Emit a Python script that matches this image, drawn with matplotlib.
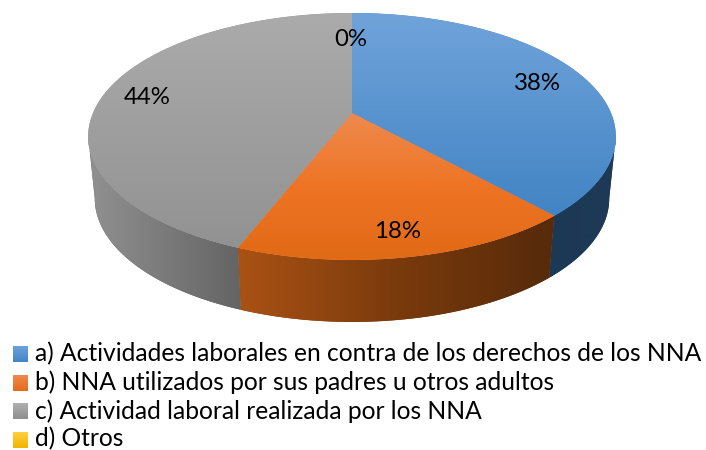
import numpy as np
import matplotlib
matplotlib.use("Agg")
import matplotlib.pyplot as plt
from matplotlib.patches import Polygon
from matplotlib.colors import LinearSegmentedColormap

categories = ["a) Actividades laborales en contra de los derechos de los NNA",
              "b) NNA utilizados por sus padres u otros adultos",
              "c) Actividad laboral realizada por los NNA",
              "d) Otros"]
values = [38.3, 17.6, 44.1, 0.0]
pct_labels = ["38%", "18%", "44%", "0%"]
label_xy = [(537.5, 83), (398, 232), (147, 98), (351, 39)]

top_colors = [["#70a3da", "#4284c4"], ["#ee8a4e", "#ee7424", "#e16a16"], ["#ababab", "#929292"], ["#ffd040", "#f0b400"]]
side_colors = [["#1b3855", "#1e3a55"], ["#aa5214", "#7a3a0c", "#562a0a"], ["#919191", "#646464"], ["#806000", "#806000"]]
swatch_colors = [["#6ba2da", "#4385c6"], ["#ee8a50", "#e56c1a"], ["#b0b0b0", "#8e8e8e"], ["#ffd040", "#f0b400"]]
swatch_y = [346, 375, 403, 432]
text_y = [354, 382.5, 411, 438.5]

FONT = "Lato"
fig = plt.figure(figsize=(7.06, 4.5), dpi=100)
ax = fig.add_axes([0, 0, 1, 1])
ax.set_xlim(0, 706)
ax.set_ylim(450, 0)
ax.axis("off")

# perspective model of the disc
CX, APEX_Y, K = 352.0, 113.0, 0.19
A, B = 259.0, 119.0
BOT_Y, BOT_SCALE = 175.0, 0.975


def rim(theta, bottom=False):
    u, v = np.sin(theta), np.cos(theta)
    w = 1 + K * v
    s = BOT_SCALE if bottom else 1.0
    y0 = BOT_Y if bottom else APEX_Y
    return CX + s * A * u / w, y0 - B * v / w


def gradient(poly, colors, extent, vertical, zorder):
    cmap = LinearSegmentedColormap.from_list("g", colors)
    ramp = np.linspace(0, 1, 256)
    img = ramp[:, None] if vertical else ramp[None, :]
    im = ax.imshow(img, cmap=cmap, extent=extent, aspect="auto", zorder=zorder,
                   interpolation="bilinear")
    patch = Polygon(poly, closed=True, transform=ax.transData, fc="none", ec="none")
    ax.add_patch(patch)
    im.set_clip_path(patch)
    # thin same-tone fill softens the clip edge
    ax.add_patch(Polygon(poly, closed=True, fc=colors[len(colors) // 2], ec="none",
                         zorder=zorder - 0.5))


edges = np.cumsum([0] + values) / sum(values) * 2 * np.pi
# the silhouette of the disc turns where the rim reaches its widest point
SIDE_MIN = np.arccos(-K)
SIDE_MAX = 2 * np.pi - SIDE_MIN

# side walls
for i in range(3):
    t0, t1 = max(edges[i], SIDE_MIN), min(edges[i + 1], SIDE_MAX)
    th = np.linspace(t0, t1, 120)
    xt, yt = rim(th)
    xb, yb = rim(th[::-1], bottom=True)
    poly = np.column_stack([np.r_[xt, xb], np.r_[yt, yb]])
    lo, hi = poly[:, 0].min(), poly[:, 0].max()
    gradient(poly, side_colors[i], (lo, hi, 450, 0), False, 2)

# top faces
for i in range(3):
    th = np.linspace(edges[i], edges[i + 1], 200)
    xt, yt = rim(th)
    poly = np.column_stack([np.r_[CX, xt], np.r_[APEX_Y, yt]])
    lo, hi = poly[:, 1].min(), poly[:, 1].max()
    gradient(poly, top_colors[i], (0, 706, hi, lo), True, 4)

ax.set_xlim(0, 706)
ax.set_ylim(450, 0)

for s, (x, y) in zip(pct_labels, label_xy):
    ax.text(x, y, s, ha="center", va="center", fontsize=17.3, family=FONT, color="black", zorder=6)

for cat, sc, sy, ty in zip(categories, swatch_colors, swatch_y, text_y):
    poly = [(13, sy), (28, sy), (28, sy + 16), (13, sy + 16)]
    gradient(poly, sc, (13, 28, sy + 16, sy), True, 4)
    ax.text(35, ty, cat, ha="left", va="center", fontsize=17.7, family=FONT, color="black", zorder=6)

ax.set_xlim(0, 706)
ax.set_ylim(450, 0)
fig.savefig("out.png", dpi=100)
